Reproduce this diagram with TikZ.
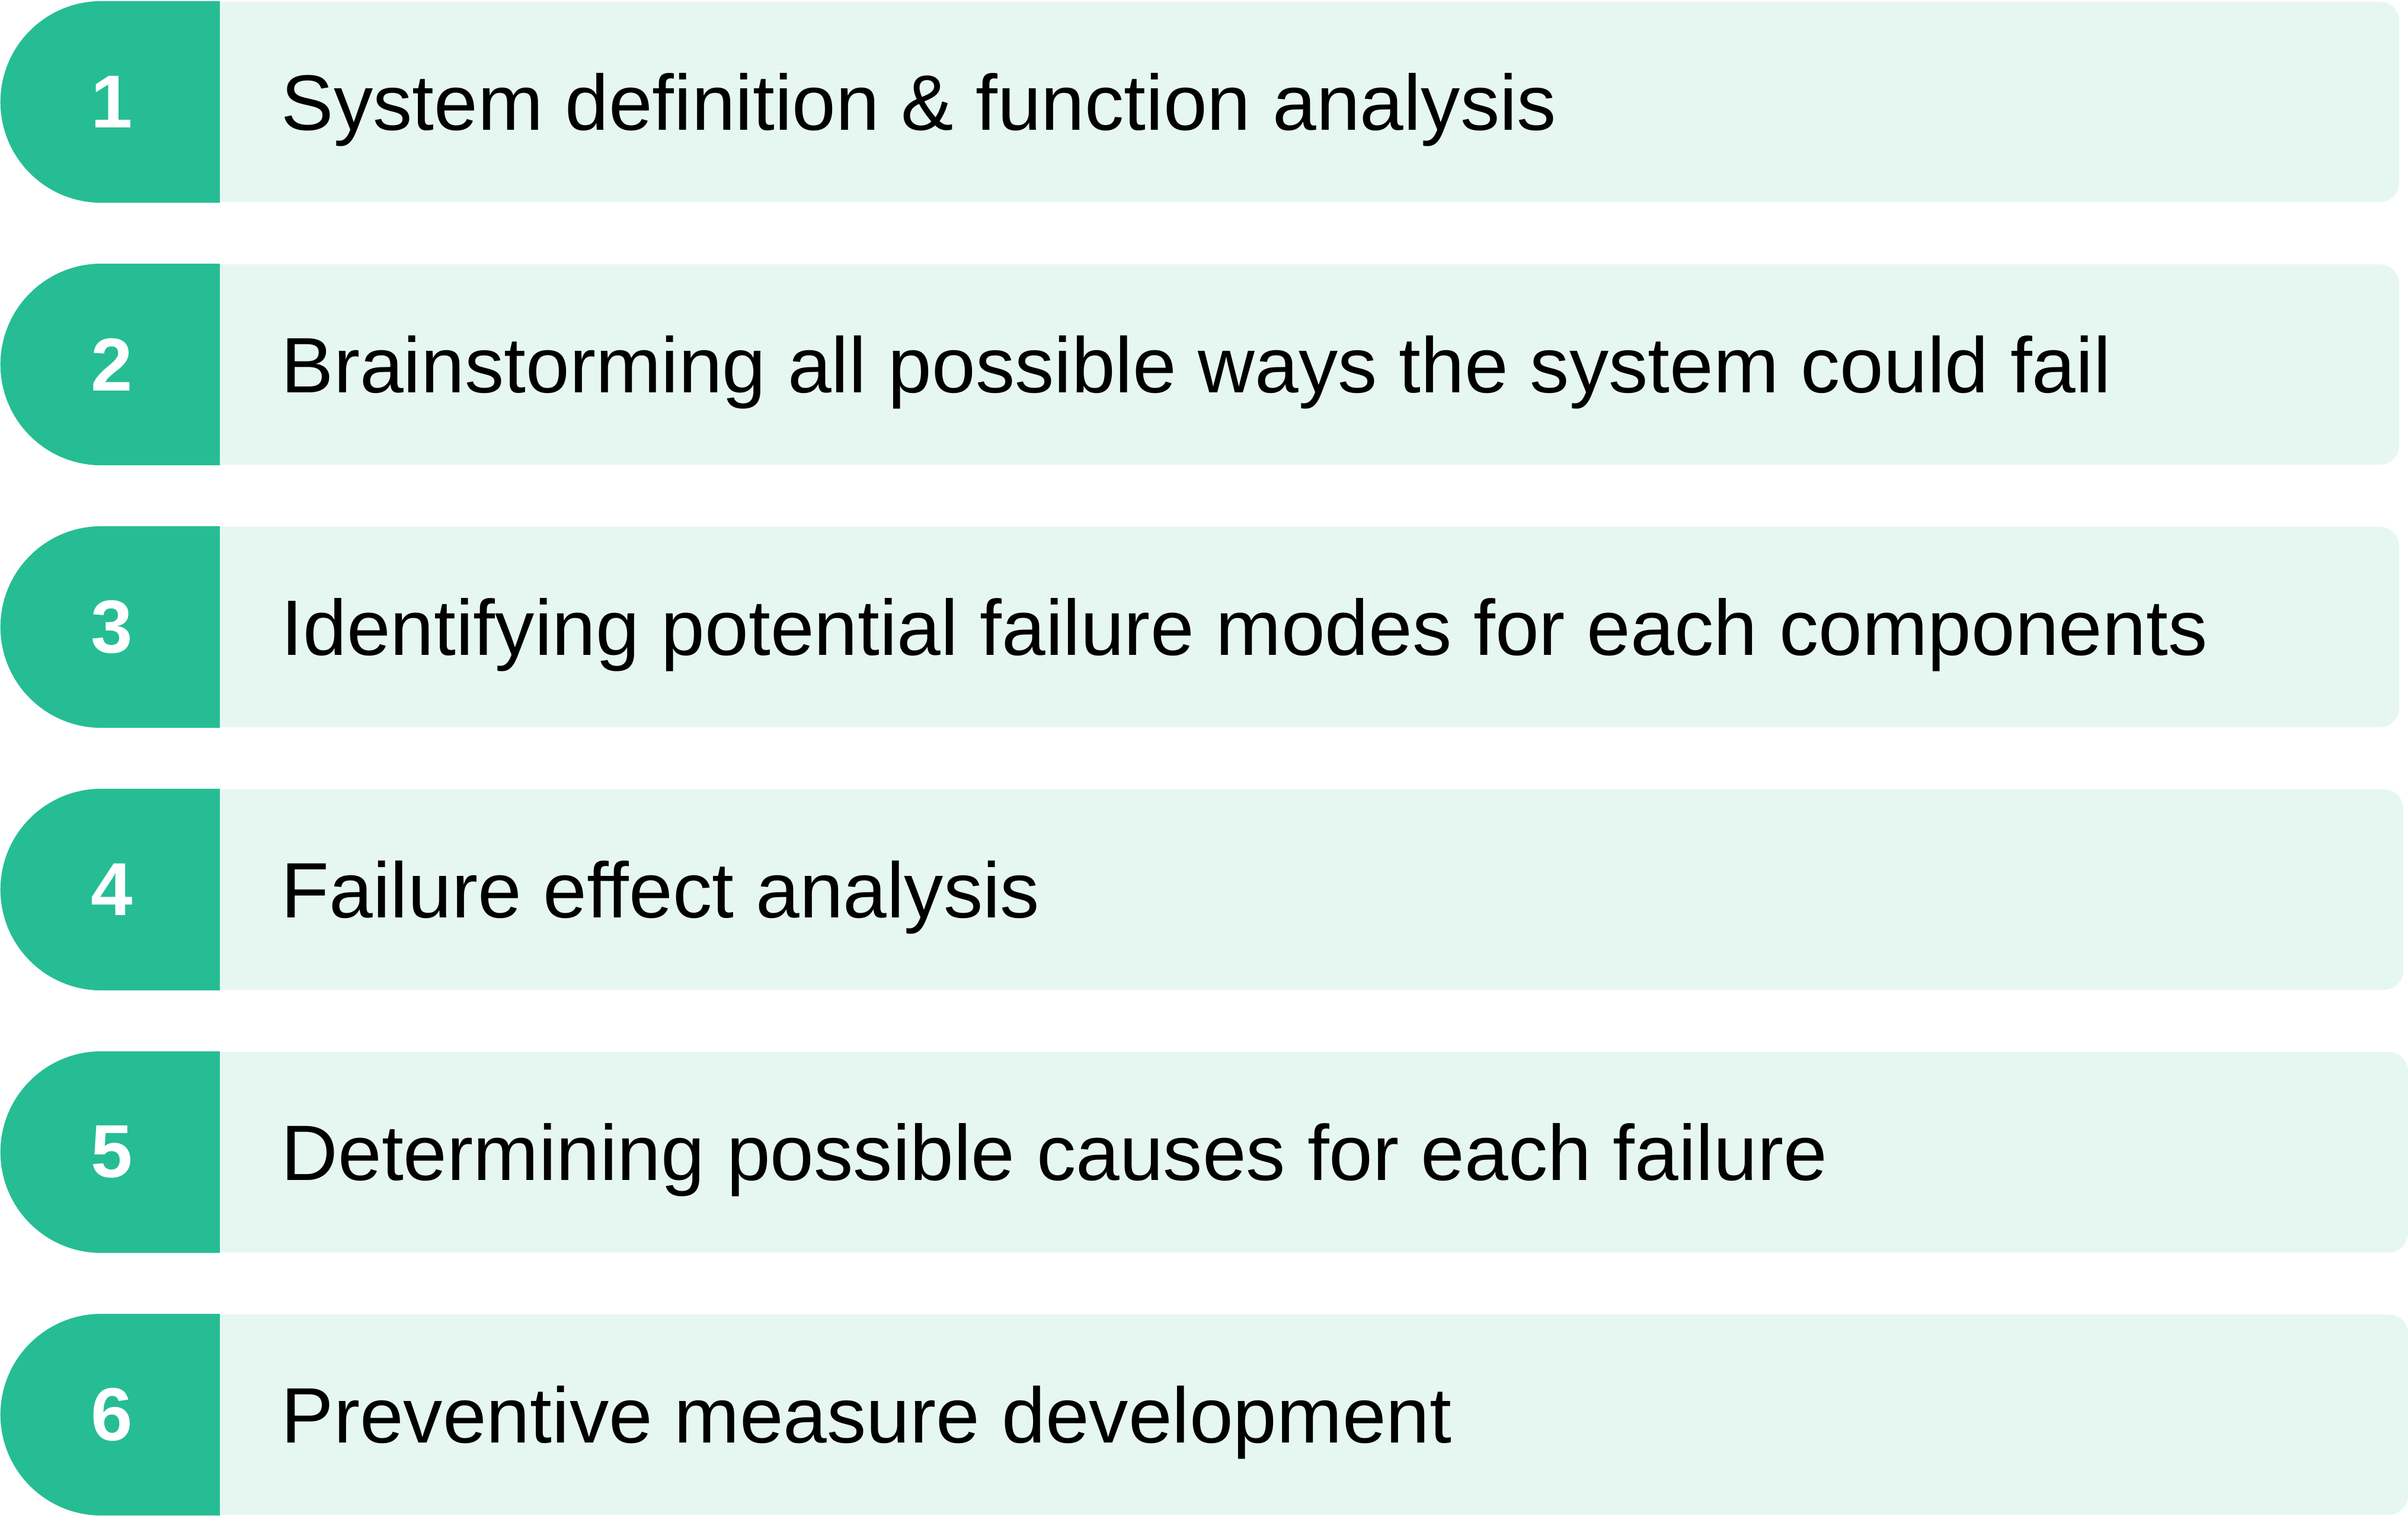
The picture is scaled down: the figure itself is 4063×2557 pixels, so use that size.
\documentclass[tikz,border=0pt]{standalone}
\usepackage{fontspec}
\setmainfont{Liberation Sans}
\usetikzlibrary{shapes.misc}
\definecolor{tabgreen}{RGB}{38,189,148}
\definecolor{boxmint}{RGB}{230,247,241}
\tikzset{
  numtab/.style={rounded rectangle, rounded rectangle right arc=none, fill=tabgreen,
    minimum width=3.7cm, minimum height=3.4cm, inner sep=0pt, anchor=west,
    text=white, font=\fontsize{36}{40}\selectfont\bfseries},
  stepbox/.style={rectangle, rounded corners=0.32cm, fill=boxmint,
    minimum height=3.38cm, inner sep=0pt, anchor=west},
  steptext/.style={anchor=base west, inner sep=0pt, text=black,
    font=\fontsize{37.7}{40}\selectfont}
}
\begin{document}
\begin{tikzpicture}[x=0.01cm, y=-0.01cm]
    \useasboundingbox (0,0) rectangle (4063,2557);

    % light boxes behind the tabs
    \node[stepbox, minimum width=37.45cm] (box1) at (300,172)  {};
    \node[stepbox, minimum width=37.45cm] (box2) at (300,615)  {};
    \node[stepbox, minimum width=37.45cm] (box3) at (300,1058) {};
    \node[stepbox, minimum width=37.52cm] (box4) at (300,1501) {};
    \node[stepbox, minimum width=37.60cm] (box5) at (300,1944) {};
    \node[stepbox, minimum width=37.60cm] (box6) at (300,2387) {};

    % numbered tabs
    \node[numtab] (tab1) at (0,172)  {1};
    \node[numtab] (tab2) at (0,615)  {2};
    \node[numtab] (tab3) at (0,1058) {3};
    \node[numtab] (tab4) at (0,1501) {4};
    \node[numtab] (tab5) at (0,1944) {5};
    \node[numtab] (tab6) at (0,2387) {6};

    % step texts
    \node[steptext] (txt1) at (474,219)  {System definition \& function analysis};
    \node[steptext] (txt2) at (474,662)  {Brainstorming all possible ways the system could fail};
    \node[steptext] (txt3) at (474,1105) {Identifying potential failure modes for each components};
    \node[steptext] (txt4) at (474,1548) {Failure effect analysis};
    \node[steptext] (txt5) at (474,1991) {Determining possible causes for each failure};
    \node[steptext] (txt6) at (474,2434) {Preventive measure development};
\end{tikzpicture}
\end{document}
